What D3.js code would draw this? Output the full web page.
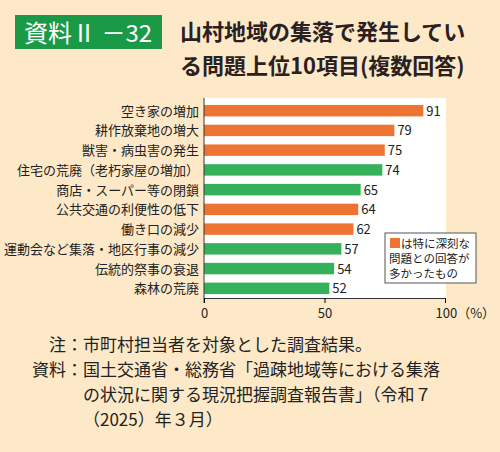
<!DOCTYPE html><html><head><meta charset="utf-8"><script src="https://cdn.jsdelivr.net/npm/d3@7"></script>
<style>body{margin:0;background:#fde9c8}text{font-family:"Noto Sans CJK JP",sans-serif}</style></head><body><svg id="c" width="500" height="452"></svg><script>
const categories=["空き家の増加","耕作放棄地の増大","獣害・病虫害の発生","住宅の荒廃（老朽家屋の増加）","商店・スーパー等の閉鎖","公共交通の利便性の低下","働き口の減少","運動会など集落・地区行事の減少","伝統的祭事の衰退","森林の荒廃"];
const values=[91,79,75,74,65,64,62,57,54,52];
const serious=[true,true,true,false,false,true,true,false,false,false];
const ticks=[0,50,100];
const svg=d3.select("#c");
svg.append("rect").attr("width",500).attr("height",452).attr("fill","#fde9c8");
svg.append("rect").attr("x",15).attr("y",15).attr("width",147).attr("height",34).attr("fill","#1a9a47");
svg.append("text").attr("x",24).attr("y",42).attr("fill","#fff").attr("font-size",24).text("資料Ⅱ －32");
svg.append("text").attr("x",180).attr("y",40).attr("fill","#2a2020").attr("font-size",22).attr("font-weight","bold").text("山村地域の集落で発生してい");
svg.append("text").attr("x",180).attr("y",74).attr("fill","#2a2020").attr("font-size",22).attr("font-weight","bold").text("る問題上位10項目(複数回答)");
const x=d3.scaleLinear().domain([0,100]).range([204,445]);
const y=d3.scaleBand().domain(categories).range([101,298]).paddingInner(0.42).paddingOuter(0.2);
svg.append("rect").attr("x",204).attr("y",98).attr("width",242).attr("height",200).attr("fill","#fff");
svg.selectAll(".b").data(categories).join("rect").attr("x",x(0)).attr("y",d=>y(d)).attr("width",(d,i)=>x(values[i])-x(0)).attr("height",y.bandwidth()).attr("fill",(d,i)=>serious[i]?"#ee7433":"#36b15b");
svg.selectAll(".v").data(categories).join("text").attr("x",(d,i)=>x(values[i])+3).attr("y",d=>y(d)+y.bandwidth()/2+5).attr("font-size",13).attr("fill","#222").text((d,i)=>values[i]);
svg.selectAll(".l").data(categories).join("text").attr("x",199).attr("y",d=>y(d)+y.bandwidth()/2+5).attr("text-anchor","end").attr("font-size",13).attr("fill","#222").text(d=>d);
svg.append("line").attr("x1",204).attr("x2",204).attr("y1",98).attr("y2",303).attr("stroke","#333");
const ax=svg.append("g").attr("transform","translate(0,298)").call(d3.axisBottom(x).tickValues(ticks).tickSize(5).tickFormat(d=>d));
ax.select(".domain").attr("stroke","#333");ax.selectAll("text").attr("font-size",13).attr("fill","#222").attr("dy","0.9em");
ax.selectAll(".tick").filter(d=>d===100).select("text").text("100（%）").attr("text-anchor","start").attr("dx",-10);
svg.append("rect").attr("x",385).attr("y",233).attr("width",91).attr("height",50).attr("fill","#fff").attr("stroke","#555");
svg.append("rect").attr("x",390).attr("y",238).attr("width",10).attr("height",10).attr("fill","#ee7433");
["は特に深刻な","問題との回答が","多かったもの"].forEach((t,i)=>svg.append("text").attr("x",i?389:401).attr("y",248+i*15).attr("font-size",11.5).attr("fill","#222").text(t));
const notes=[["注：","市町村担当者を対象とした調査結果。"],["資料：","国土交通省・総務省「過疎地域等における集落"],["","の状況に関する現況把握調査報告書」（令和７"],["","（2025）年３月）"]];
notes.forEach((n,i)=>{svg.append("text").attr("x",83).attr("y",351+i*25).attr("text-anchor","end").attr("font-size",17).attr("fill","#222").text(n[0]);
svg.append("text").attr("x",83).attr("y",351+i*25).attr("font-size",17).attr("fill","#222").text(n[1]);});
</script></body></html>
